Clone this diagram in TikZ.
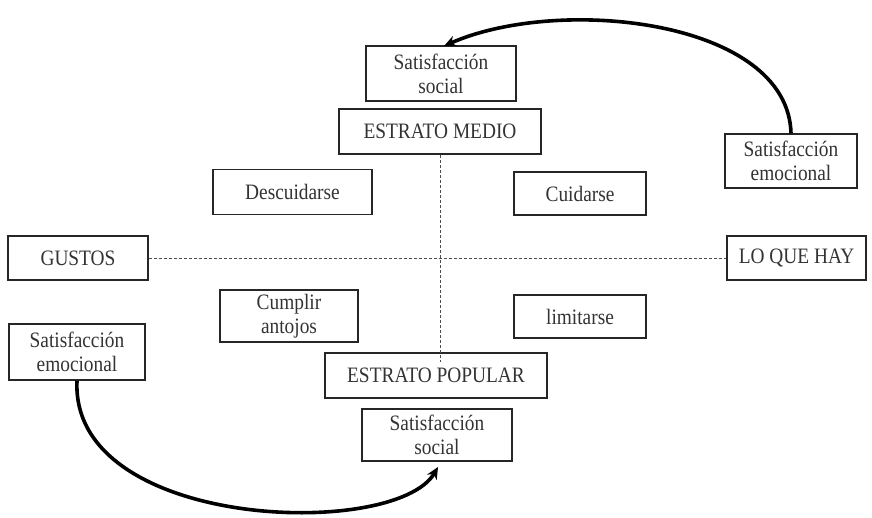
\documentclass[tikz,border=0pt]{standalone}
\usepackage{fontspec}
\setmainfont[FakeStretch=0.88]{Liberation Serif}
\usetikzlibrary{arrows.meta}
\begin{document}
\begin{tikzpicture}[x=1pt,y=-1pt,
  box/.style={draw=black!85, line width=1.5pt, inner sep=0pt, align=center,
    text=black!80, font=\fontsize{22}{24}\selectfont},
  guide/.style={draw=black!70, line width=0.8pt, dash pattern=on 3pt off 2pt},
  flow/.style={draw=black, line width=3.6pt, -{Stealth[length=12pt,width=11pt]}}]
\useasboundingbox (0,0) rectangle (872,517);
\node[box, minimum width=150pt, minimum height=55pt] (ssT) at (441,73.5) {Satisfacción\\social};
\node[box, minimum width=202pt, minimum height=45pt] (medio) at (440,131.5) {ESTRATO MEDIO};
\node[box, minimum width=132pt, minimum height=54pt] (seR) at (791,161) {Satisfacción\\emocional};
\node[box, minimum width=159pt, minimum height=45pt] (descu) at (292.5,192) {Descuidarse};
\node[box, minimum width=132pt, minimum height=43pt] (cuida) at (580,193.5) {Cuidarse};
\node[box, minimum width=140pt, minimum height=44pt] (gustos) at (78,258) {GUSTOS};
\node[box, minimum width=139pt, minimum height=44pt] (loque) at (796.5,258) {LO QUE HAY};
\node[box, minimum width=138pt, minimum height=52pt] (cumplir) at (289,316) {Cumplir\\antojos};
\node[box, minimum width=132pt, minimum height=43pt] (limita) at (580,316.5) {limitarse};
\node[box, minimum width=136pt, minimum height=56pt] (seL) at (77,352) {Satisfacción\\emocional};
\node[box, minimum width=222pt, minimum height=45pt] (popular) at (436,375.5) {ESTRATO POPULAR};
\node[box, minimum width=150pt, minimum height=52pt] (ssB) at (437,435) {Satisfacción\\social};
\coordinate (vend) at (440,362);
\coordinate (tipT) at (444,46);
\coordinate (tipB) at (438,467);
\draw[guide] (gustos) -- (loque);
\draw[guide] (medio.south) -- (vend);
\draw[flow] (seR.north) .. controls (788,20) and (560,-5) .. (tipT);
\draw[flow] (seL.south) .. controls (70,530) and (395,540) .. (tipB);
\end{tikzpicture}
\end{document}
